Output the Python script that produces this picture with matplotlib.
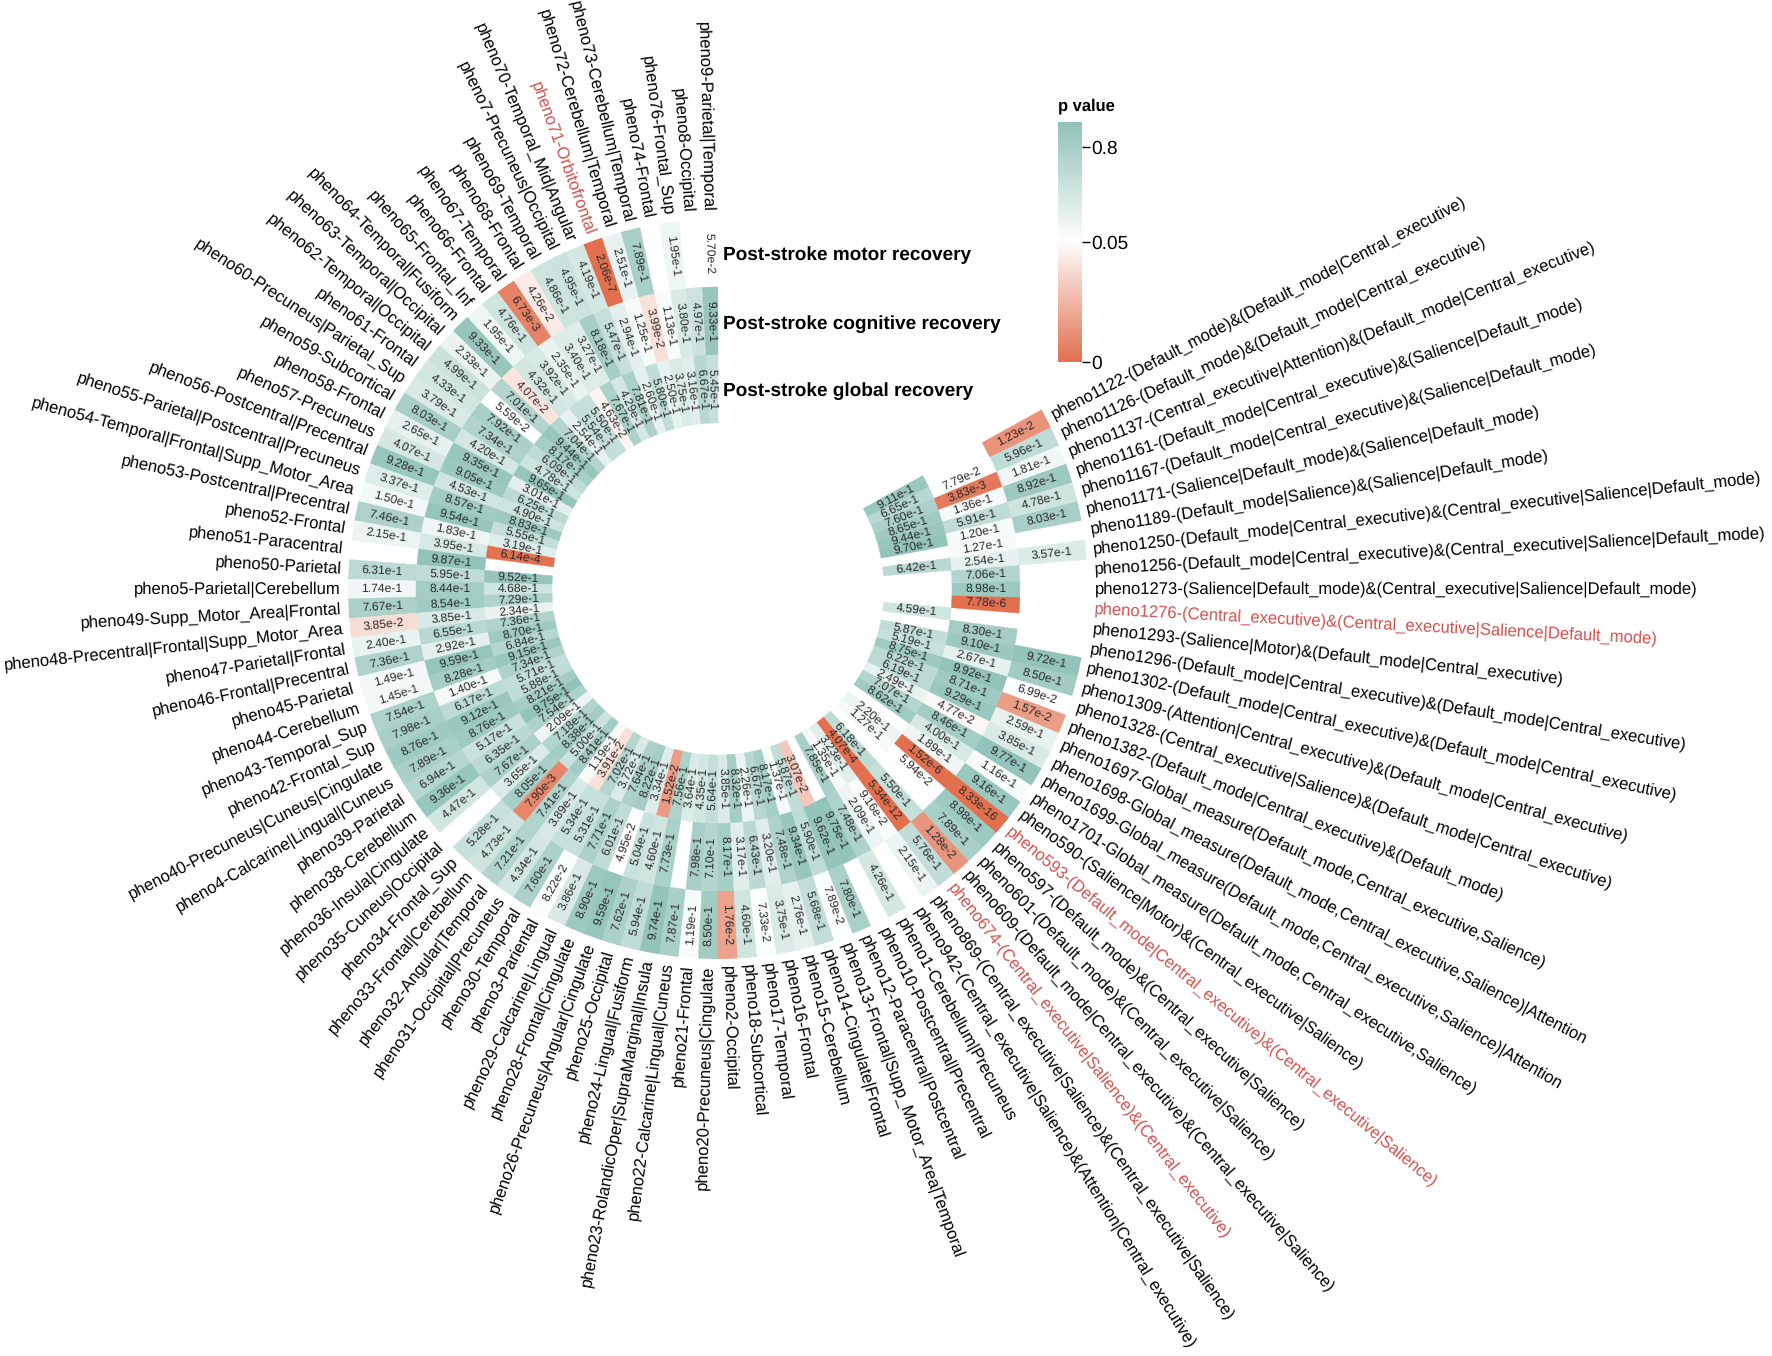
import numpy as np
import matplotlib
matplotlib.use("Agg")
import matplotlib.pyplot as plt
from matplotlib.colors import LinearSegmentedColormap

plt.rcParams['font.family'] = ['Liberation Sans', 'DejaVu Sans']
plt.rcParams['text.hinting'] = 'no_hinting'

W, H = 1772, 1356
CX, CY = 718, 589

# going counter clockwise from the top
labels = [
    "pheno9-Parietal|Temporal", "pheno8-Occipital", "pheno76-Frontal_Sup", "pheno74-Frontal",
    "pheno73-Cerebellum|Temporal", "pheno72-Cerebellum|Temporal", "pheno71-Orbitofrontal",
    "pheno70-Temporal_Mid|Angular", "pheno7-Precuneus|Occipital", "pheno69-Temporal", "pheno68-Frontal",
    "pheno67-Temporal", "pheno66-Frontal", "pheno65-Frontal_Inf", "pheno64-Temporal|Fusiform",
    "pheno63-Temporal|Occipital", "pheno62-Temporal|Occipital", "pheno61-Frontal",
    "pheno60-Precuneus|Parietal_Sup", "pheno59-Subcortical", "pheno58-Frontal", "pheno57-Precuneus",
    "pheno56-Postcentral|Precentral", "pheno55-Parietal|Postcentral|Precuneus",
    "pheno54-Temporal|Frontal|Supp_Motor_Area", "pheno53-Postcentral|Precentral", "pheno52-Frontal",
    "pheno51-Paracentral", "pheno50-Parietal", "pheno5-Parietal|Cerebellum", "pheno49-Supp_Motor_Area|Frontal",
    "pheno48-Precentral|Frontal|Supp_Motor_Area", "pheno47-Parietal|Frontal", "pheno46-Frontal|Precentral",
    "pheno45-Parietal", "pheno44-Cerebellum", "pheno43-Temporal_Sup", "pheno42-Frontal_Sup",
    "pheno40-Precuneus|Cuneus|Cingulate", "pheno4-Calcarine|Lingual|Cuneus", "pheno39-Parietal",
    "pheno38-Cerebellum", "pheno36-Insula|Cingulate", "pheno35-Cuneus|Occipital", "pheno34-Frontal_Sup",
    "pheno33-Frontal|Cerebellum", "pheno32-Angular|Temporal", "pheno31-Occipital|Precuneus",
    "pheno30-Temporal", "pheno3-Pariental", "pheno29-Calcarine|Lingual", "pheno28-Frontal|Cingulate",
    "pheno26-Precuneus|Angular|Cingulate", "pheno25-Occipital", "pheno24-Lingual|Fusiform",
    "pheno23-RolandicOper|SupraMarginal|Insula", "pheno22-Calcarine|Lingual|Cuneus", "pheno21-Frontal",
    "pheno20-Precuneus|Cingulate", "pheno2-Occipital", "pheno18-Subcortical", "pheno17-Temporal",
    "pheno16-Frontal", "pheno15-Cerebellum", "pheno14-Cingulate|Frontal",
    "pheno13-Frontal|Supp_Motor_Area|Temporal", "pheno12-Paracentral|Postcentral",
    "pheno10-Postcentral|Precentral", "pheno1-Cerebellum|Precuneus",
    "pheno942-(Central_executive|Salience)&(Attention|Central_executive)",
    "pheno869-(Central_executive|Salience)&(Central_executive|Salience)",
    "pheno674-(Central_executive|Salience)&(Central_executive)",
    "pheno609-(Default_mode|Central_executive)&(Central_executive|Salience)",
    "pheno601-(Default_mode)&(Central_executive|Salience)",
    "pheno597-(Default_mode)&(Central_executive|Salience)",
    "pheno593-(Default_mode|Central_executive)&(Central_executive|Salience)",
    "pheno590-(Salience|Motor)&(Central_executive|Salience)",
    "pheno1701-Global_measure(Default_mode,Central_executive,Salience)",
    "pheno1699-Global_measure(Default_mode,Central_executive,Salience)|Attention",
    "pheno1698-Global_measure(Default_mode,Central_executive,Salience)|Attention",
    "pheno1697-Global_measure(Default_mode,Central_executive,Salience)",
    "pheno1382-(Default_mode|Central_executive)&(Default_mode)",
    "pheno1328-(Central_executive|Salience)&(Default_mode|Central_executive)",
    "pheno1309-(Attention|Central_executive)&(Default_mode|Central_executive)",
    "pheno1302-(Default_mode|Central_executive)&(Default_mode|Central_executive)",
    "pheno1296-(Default_mode|Central_executive)&(Default_mode|Central_executive)",
    "pheno1293-(Salience|Motor)&(Default_mode|Central_executive)",
    "pheno1276-(Central_executive)&(Central_executive|Salience|Default_mode)",
    "pheno1273-(Salience|Default_mode)&(Central_executive|Salience|Default_mode)",
    "pheno1256-(Default_mode|Central_executive)&(Central_executive|Salience|Default_mode)",
    "pheno1250-(Default_mode|Central_executive)&(Central_executive|Salience|Default_mode)",
    "pheno1189-(Default_mode|Salience)&(Salience|Default_mode)",
    "pheno1171-(Salience|Default_mode)&(Salience|Default_mode)",
    "pheno1167-(Default_mode|Central_executive)&(Salience|Default_mode)",
    "pheno1161-(Default_mode|Central_executive)&(Salience|Default_mode)",
    "pheno1137-(Central_executive|Attention)&(Default_mode|Central_executive)",
    "pheno1126-(Default_mode)&(Default_mode|Central_executive)",
    "pheno1122-(Default_mode)&(Default_mode|Central_executive)",
]
red_labels = ["pheno71-Orbitofrontal", "pheno674-(Central_executive|Salience)&(Central_executive)",
              "pheno593-(Default_mode|Central_executive)&(Central_executive|Salience)",
              "pheno1276-(Central_executive)&(Central_executive|Salience|Default_mode)"]

motor = [
    "5.70e-2", None, "1.95e-1", None, "7.89e-1", "2.51e-1", "2.06e-7", "4.19e-1", "4.95e-1", "4.86e-1",
    "4.26e-2", "6.73e-3", "4.76e-1", "1.95e-1", "9.33e-1", "2.33e-1", "4.99e-1", "4.33e-1", "3.79e-1", "8.03e-1",
    "2.65e-1", "4.07e-1", "9.28e-1", "3.37e-1", "1.50e-1", "7.46e-1", "2.15e-1", None, "6.31e-1", "1.74e-1",
    "7.67e-1", "3.85e-2", "2.40e-1", "7.36e-1", "1.49e-1", "1.45e-1", "7.54e-1", "7.98e-1", "8.76e-1", "7.89e-1",
    "6.94e-1", "9.36e-1", "4.47e-1", None, "5.28e-1", "4.73e-1", "7.21e-1", "4.34e-1", "7.60e-1", "8.22e-2",
    "3.86e-1", "8.90e-1", "9.59e-1", "7.62e-1", "5.94e-1", "9.74e-1", "7.87e-1", "1.19e-1", "8.50e-1", "1.76e-2",
    "4.60e-1", "7.33e-2", "3.75e-1", "2.76e-1", "5.68e-1", "7.89e-2", "7.80e-1", None, "4.26e-1", None,
    "2.15e-1", "5.76e-1", "1.28e-2", "7.89e-1", "8.98e-1", "8.33e-16", "9.16e-1", "1.16e-1", "9.77e-1", "3.85e-1",
    "2.59e-1", "1.57e-2", "6.99e-2", "8.50e-1", "9.72e-1", None, None, None, None, None,
    "3.57e-1", None, "8.03e-1", "4.78e-1", "8.92e-1", "1.81e-1", "5.96e-1", "1.23e-2",
]
cognitive = [
    "9.33e-1", "4.97e-1", "3.80e-1", "1.13e-1", "3.99e-2", "1.25e-1", "2.94e-1", "5.47e-1", "8.18e-1", "3.27e-1",
    "3.40e-1", "2.35e-1", "3.92e-1", "4.32e-1", "4.07e-2", "7.01e-1", "5.59e-2", "7.92e-1", "7.34e-1", "4.20e-1",
    "9.35e-1", "9.05e-1", "4.53e-1", "8.57e-1", "9.54e-1", "1.83e-1", "3.95e-1", "9.87e-1", "5.95e-1", "8.44e-1",
    "8.54e-1", "3.85e-1", "6.55e-1", "2.92e-1", "9.59e-1", "8.28e-1", "1.40e-1", "6.17e-1", "9.12e-1", "8.76e-1",
    "5.17e-1", "6.35e-1", "7.67e-1", "3.65e-1", "8.05e-1", "7.90e-3", "7.41e-1", "3.89e-1", "5.34e-1", "5.31e-1",
    "7.71e-1", "6.01e-1", "4.95e-2", "5.04e-1", "4.60e-1", "7.73e-1", None, "7.98e-1", "7.10e-1", "8.17e-1",
    "3.17e-1", "6.43e-1", "3.20e-1", "7.48e-1", "9.34e-1", "5.90e-1", "9.62e-1", "9.75e-1", "7.48e-1", "2.09e-1",
    "9.16e-2", "5.34e-12", "5.50e-1", None, "5.94e-2", "1.52e-6", "1.89e-1", "4.00e-1", "8.46e-1", "4.77e-2",
    "9.29e-1", "8.71e-1", "9.92e-1", "2.67e-1", "9.10e-1", "8.30e-1", None, "7.78e-6", "8.98e-1", "7.06e-1",
    "2.54e-1", "1.27e-1", "1.20e-1", "5.91e-1", "1.36e-1", "3.83e-3", "7.79e-2", None,
]
global_rec = [
    "5.45e-1", "6.67e-1", "3.16e-1", "3.75e-1", "2.50e-1", "5.80e-1", "2.60e-1", "7.81e-1", "4.29e-1", "7.67e-1",
    "4.63e-2", "5.50e-1", "5.54e-1", "2.54e-1", "7.04e-1", "9.44e-1", "8.17e-1", "6.09e-1", "4.78e-1", "9.65e-1",
    "3.01e-1", "6.25e-1", "4.90e-1", "8.83e-1", "5.55e-1", "3.19e-1", "6.14e-4", None, "9.52e-1", "4.68e-1",
    "7.29e-1", "2.34e-1", "7.36e-1", "8.70e-1", "6.84e-1", "9.15e-1", "7.34e-1", "5.71e-1", "5.88e-1", "8.21e-1",
    "9.75e-1", "7.54e-1", "2.09e-1", "7.18e-1", "8.38e-1", "5.00e-1", "8.41e-1", "1.19e-1", "3.91e-2", "7.02e-1",
    "3.72e-1", "7.64e-1", "8.22e-1", "3.34e-1", "1.52e-2", "7.56e-1", "3.64e-1", "4.35e-1", "5.64e-1", "3.85e-1",
    "8.32e-1", "2.26e-1", "6.67e-1", "8.17e-1", "1.37e-1", "5.87e-1", "3.07e-2", None, "7.85e-1", "1.35e-1",
    "3.23e-1", "4.07e-4", "6.18e-1", None, "1.27e-1", "2.20e-1", None, "8.62e-1", "7.07e-1", "2.49e-1",
    "6.19e-1", "6.22e-1", "8.75e-1", "5.19e-1", "5.87e-1", None, "4.59e-1", None, None, None,
    "6.42e-1", None, "9.70e-1", "9.44e-1", "8.65e-1", "7.60e-1", "6.65e-1", "9.11e-1",
]

ring_names = ["Post-stroke motor recovery", "Post-stroke cognitive recovery", "Post-stroke global recovery"]
ring_y = [255, 324, 391]
cbar_ticks = [0.8, 0.05, 0]
cbar_tick_y = [147, 242, 362]

cmap = LinearSegmentedColormap.from_list(
    "pval", [(0, "#E2704F"), (0.05, "#FFFFFF"), (1, "#90C2B8")], N=2048)

fig = plt.figure(figsize=(W / 100, H / 100), dpi=100)

rmax = 370
ax = fig.add_axes([(CX - rmax) / W, (H - CY - rmax) / H, 2 * rmax / W, 2 * rmax / H], projection="polar")
ax.set_theta_zero_location("N")
ax.set_theta_direction(1)
ax.set_ylim(0, rmax)
ax.axis("off")

width = np.deg2rad(360 / 118)
rings = [(302, motor), (234, cognitive), (166, global_rec)]
for bottom, values in rings:
    for i, v in enumerate(values):
        if v is None:
            continue
        theta = (i + 0.5) * width
        c = cmap(float(v))
        ax.bar(theta, 68, width=width, bottom=bottom, color=c, edgecolor=c, linewidth=0.3)

for bottom, values in rings:
    for i, v in enumerate(values):
        if v is None:
            continue
        theta = (i + 0.5) * width
        if theta < np.pi:
            rot = np.degrees(np.arctan2(-np.cos(theta), np.sin(theta)))
        else:
            rot = np.degrees(np.arctan2(np.cos(theta), -np.sin(theta)))
        ax.text(theta, bottom + 34, v, fontsize=8.7, color="#2b2b2b", rotation=rot,
                rotation_mode="anchor", ha="center", va="center")

for i, name in enumerate(labels):
    theta = (i + 0.5) * width
    if theta < np.pi:
        rot = np.degrees(np.arctan2(-np.cos(theta), np.sin(theta)))
        ha = "right"
    else:
        rot = np.degrees(np.arctan2(np.cos(theta), -np.sin(theta)))
        ha = "left"
    col = "#D0524F" if name in red_labels else "black"
    ax.text(theta, 377, name, fontsize=12.0, color=col, rotation=rot,
            rotation_mode="anchor", ha=ha, va="center")

for name, y in zip(ring_names, ring_y):
    fig.text(723 / W, 1 - y / H, name, fontsize=13.7, fontweight="bold", ha="left", va="center")

# colour bar, the scale is not linear so it goes through the tick positions
cax = fig.add_axes([1058 / W, 1 - 362 / H, 24 / W, 240 / H])
ys = np.arange(122, 363)
vals = np.interp(ys, [122, 147, 242, 362], [1, 0.8, 0.05, 0])
cax.imshow(vals[:, None], cmap=cmap, vmin=0, vmax=1, aspect="auto", extent=[0, 1, 362, 122])
cax.set_xticks([])
cax.yaxis.tick_right()
cax.set_yticks(cbar_tick_y)
cax.set_yticklabels([str(t) for t in cbar_ticks], fontsize=13.8)
cax.tick_params(axis="y", length=6, width=1, pad=1)
for s in cax.spines.values():
    s.set_visible(False)
fig.text(1058 / W, 1 - 106 / H, "p value", fontsize=11.9, fontweight="bold", ha="left", va="center")

fig.savefig("out.png", dpi=100, facecolor="white")
